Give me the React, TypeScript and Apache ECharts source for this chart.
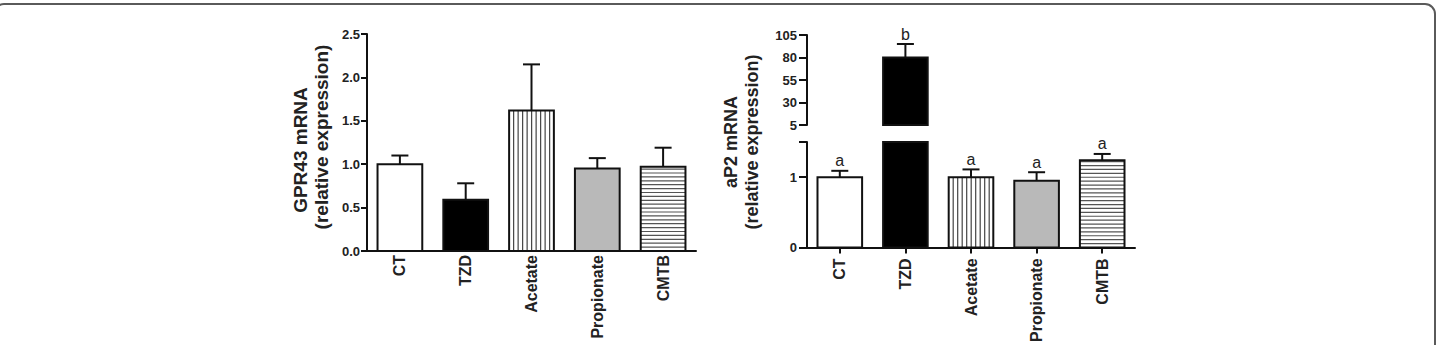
import React, { useEffect, useRef } from "react";
import * as echarts from "echarts";

// ---------- data ----------
const categories = ["CT", "TZD", "Acetate", "Propionate", "CMTB"];
const gpr43Mean = [1.0, 0.59, 1.62, 0.95, 0.97];
const gpr43Sem = [0.1, 0.19, 0.53, 0.12, 0.22];
const ap2Mean = [1.0, 80, 1.0, 0.95, 1.24];
const ap2Sem = [0.09, 15, 0.11, 0.12, 0.09];
const ap2Letters = ["a", "b", "a", "a", "a"];
const gpr43Ticks = [0, 0.5, 1.0, 1.5, 2.0, 2.5];
const ap2UpperTicks = [5, 30, 55, 80, 105];
const ap2LowerRange = [0, 1.5];
const ap2LowerStep = 1;

// ---------- styles ----------
const FONT = "'Liberation Sans', Arial, Helvetica, sans-serif";
const INK = "#111";
const fills: Record<string, string> = {
  CT: "open",
  TZD: "solid",
  Acetate: "vstripe",
  Propionate: "grey",
  CMTB: "hstripe",
};

function makeRenderer(axisMin: number, axisMax: number, letters: string[] | null) {
  return (params: any, api: any) => {
    const i = api.value(0);
    const v = api.value(1);
    const e = api.value(2);
    if (v <= axisMin) return null;
    const base = api.coord([i, axisMin]);
    const cx = base[0];
    const yBase = base[1];
    const yTop = api.coord([i, Math.min(v, axisMax)])[1];
    const band = api.size([1, 0])[0];
    const w = band * 0.68;
    const x0 = cx - w / 2;
    const h = yBase - yTop;
    const kind = fills[categories[i]];
    const children: any[] = [];
    let fill = "#fff";
    if (kind === "solid") fill = "#000";
    if (kind === "grey") fill = "#b9b9b9";
    children.push({
      type: "rect",
      shape: { x: x0, y: yTop, width: w, height: h },
      style: { fill, stroke: "none" },
    });
    if (kind === "vstripe") {
      for (let sx = x0 + 4.5; sx < x0 + w - 1; sx += 4.5) {
        children.push({
          type: "line",
          shape: { x1: sx, y1: yTop, x2: sx, y2: yBase },
          style: { stroke: "#444", lineWidth: 1.2 },
        });
      }
    }
    if (kind === "hstripe") {
      for (let sy = yBase - 3.9; sy > yTop + 1; sy -= 3.9) {
        children.push({
          type: "line",
          shape: { x1: x0, y1: sy, x2: x0 + w, y2: sy },
          style: { stroke: "#555", lineWidth: 1.2 },
        });
      }
    }
    children.push({
      type: "rect",
      shape: { x: x0, y: yTop, width: w, height: h },
      style: { fill: "none", stroke: INK, lineWidth: 2 },
    });
    const top = v + e;
    if (v <= axisMax && top <= axisMax + 1e-9) {
      const yErr = api.coord([i, top])[1];
      children.push({
        type: "line",
        shape: { x1: cx, y1: yTop, x2: cx, y2: yErr },
        style: { stroke: INK, lineWidth: 2 },
      });
      children.push({
        type: "line",
        shape: { x1: cx - 8.5, y1: yErr, x2: cx + 8.5, y2: yErr },
        style: { stroke: INK, lineWidth: 2 },
      });
      if (letters) {
        children.push({
          type: "text",
          x: cx,
          y: yErr - 2,
          style: {
            text: letters[i],
            fill: "#222",
            fontSize: 16,
            fontFamily: FONT,
            align: "center",
            verticalAlign: "bottom",
          },
        });
      }
    }
    return { type: "group", children };
  };
}

function seriesData(means: number[], sems: number[]) {
  return categories.map((c, i) => [i, means[i], sems[i]]);
}

export default function App() {
  const ref = useRef<HTMLDivElement>(null);
  useEffect(() => {
    if (!ref.current) return;
    const chart = echarts.init(ref.current, null, { renderer: "svg" });
    const axisLine = { show: true, lineStyle: { color: INK, width: 2 } };
    const tickLabel = {
      color: "#222",
      fontSize: 13,
      fontWeight: "bold" as const,
      fontFamily: FONT,
    };
    const catLabel = {
      color: "#222",
      fontSize: 16,
      fontWeight: "bold" as const,
      fontFamily: FONT,
      rotate: 90,
      interval: 0,
    };
    const option: any = {
      animation: false,
      backgroundColor: "#fff",
      grid: [
        { left: 367, right: 1438 - 696, top: 34, bottom: 345 - 251 },
        { left: 807, right: 1438 - 1135, top: 142, bottom: 345 - 250 },
        { left: 807, right: 1438 - 1135, top: 35, bottom: 345 - 125 },
      ],
      xAxis: [
        {
          type: "category",
          gridIndex: 0,
          data: categories,
          axisLine,
          axisTick: { show: false },
          axisLabel: { ...catLabel, margin: 4 },
        },
        {
          type: "category",
          gridIndex: 1,
          data: categories,
          axisLine,
          axisTick: { show: true, alignWithLabel: true, length: 6, lineStyle: { color: INK, width: 2 } },
          axisLabel: { ...catLabel, margin: 11 },
        },
        {
          type: "category",
          gridIndex: 2,
          data: categories,
          show: false,
        },
      ],
      yAxis: [
        {
          type: "value",
          gridIndex: 0,
          min: gpr43Ticks[0],
          max: gpr43Ticks[gpr43Ticks.length - 1],
          interval: gpr43Ticks[1] - gpr43Ticks[0],
          axisLine,
          axisTick: { show: true, length: 6, lineStyle: { color: INK, width: 2 } },
          splitLine: { show: false },
          axisLabel: { ...tickLabel, margin: 7, formatter: (v: number) => v.toFixed(1) },
        },
        {
          type: "value",
          gridIndex: 1,
          min: ap2LowerRange[0],
          max: ap2LowerRange[1],
          interval: ap2LowerStep,
          axisLine,
          axisTick: { show: true, length: 8, lineStyle: { color: INK, width: 2 } },
          splitLine: { show: false },
          axisLabel: {
            ...tickLabel,
            margin: 10,
            formatter: (v: number) => (Math.abs(v - Math.round(v)) < 1e-9 ? String(v) : ""),
          },
        },
        {
          type: "value",
          gridIndex: 2,
          min: ap2UpperTicks[0],
          max: ap2UpperTicks[ap2UpperTicks.length - 1],
          interval: ap2UpperTicks[1] - ap2UpperTicks[0],
          axisLine,
          axisTick: { show: true, length: 8, lineStyle: { color: INK, width: 2 } },
          splitLine: { show: false },
          axisLabel: { ...tickLabel, margin: 10 },
        },
      ],
      series: [
        {
          type: "custom",
          xAxisIndex: 0,
          yAxisIndex: 0,
          data: seriesData(gpr43Mean, gpr43Sem),
          encode: { x: 0, y: 1 },
          renderItem: makeRenderer(gpr43Ticks[0], gpr43Ticks[gpr43Ticks.length - 1], null),
          clip: false,
        },
        {
          type: "custom",
          xAxisIndex: 1,
          yAxisIndex: 1,
          data: seriesData(ap2Mean, ap2Sem),
          encode: { x: 0, y: 1 },
          renderItem: makeRenderer(ap2LowerRange[0], ap2LowerRange[1], ap2Letters),
          clip: false,
        },
        {
          type: "custom",
          xAxisIndex: 2,
          yAxisIndex: 2,
          data: seriesData(ap2Mean, ap2Sem),
          encode: { x: 0, y: 1 },
          renderItem: makeRenderer(ap2UpperTicks[0], ap2UpperTicks[ap2UpperTicks.length - 1], ap2Letters),
          clip: false,
        },
      ],
      graphic: [
        {
          type: "rect",
          shape: { x: -6, y: 4, width: 1441, height: 420, r: 10 },
          style: { fill: "none", stroke: "#5a5a5a", lineWidth: 2 },
          silent: true,
        },
        {
          type: "text",
          x: 300,
          y: 150,
          rotation: Math.PI / 2,
          style: {
            text: "GPR43 mRNA",
            fontSize: 19,
            fontWeight: "bold",
            fontFamily: FONT,
            fill: "#222",
            align: "center",
            verticalAlign: "middle",
          },
        },
        {
          type: "text",
          x: 321,
          y: 137,
          rotation: Math.PI / 2,
          style: {
            text: "(relative expression)",
            fontSize: 19,
            fontWeight: "bold",
            fontFamily: FONT,
            fill: "#222",
            align: "center",
            verticalAlign: "middle",
          },
        },
        {
          type: "text",
          x: 731,
          y: 142,
          rotation: Math.PI / 2,
          style: {
            text: "aP2 mRNA",
            fontSize: 18,
            fontWeight: "bold",
            fontFamily: FONT,
            fill: "#222",
            align: "center",
            verticalAlign: "middle",
          },
        },
        {
          type: "text",
          x: 752,
          y: 142,
          rotation: Math.PI / 2,
          style: {
            text: "(relative expression)",
            fontSize: 18,
            fontWeight: "bold",
            fontFamily: FONT,
            fill: "#222",
            align: "center",
            verticalAlign: "middle",
          },
        },
      ],
    };
    chart.setOption(option);
    return () => chart.dispose();
  }, []);
  return (
    <div
      ref={ref}
      style={{ position: "absolute", left: 0, top: 0, width: 1438, height: 345 }}
    />
  );
}
